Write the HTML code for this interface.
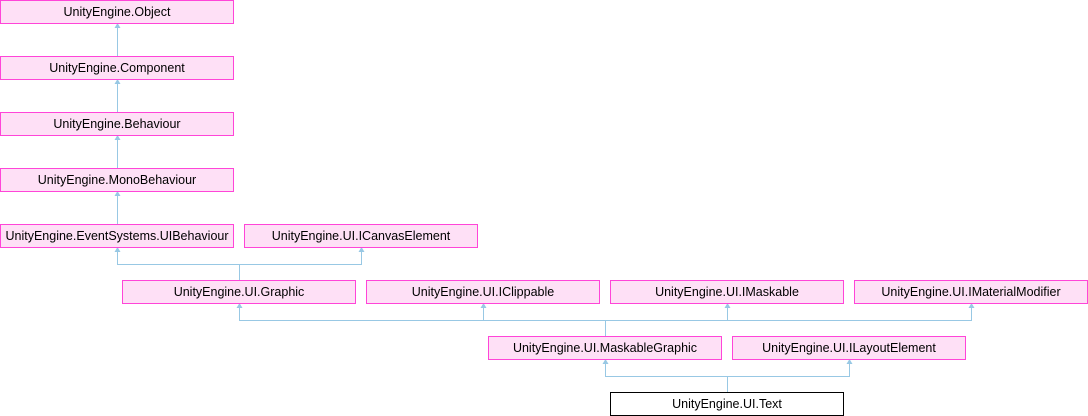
<!DOCTYPE html>
<html><head><meta charset="utf-8"><style>
html,body{margin:0;padding:0;background:#fff;width:1088px;height:416px;overflow:hidden}
text{font-family:"Liberation Sans",sans-serif;font-size:12.5px;fill:#000}
.b{fill:#fee0f6;stroke:#ff45d8;stroke-width:1}
.t{fill:#fff;stroke:#000;stroke-width:1}
.l{stroke:#98c8e4;stroke-width:1;fill:none}
.a{fill:#98c8e4}
</style></head><body>
<svg width="1088" height="416" xmlns="http://www.w3.org/2000/svg">
<g>
<path class="l" d="M117.5 26V56M117.5 82V112M117.5 138V168M117.5 194V224"/>
<path class="l" d="M117.5 250V264.5H361.5V250M239.5 264.5V280"/>
<path class="l" d="M239.5 306V320.5H971.5V306M483.5 306V320.5M727.5 306V320.5M605.5 320.5V336"/>
<path class="l" d="M605.5 362V376.5H849.5V362M727.5 376.5V392"/>
<g class="a">
<path d="M117.5 23l-3 5h6z"/><path d="M117.5 79l-3 5h6z"/><path d="M117.5 135l-3 5h6z"/><path d="M117.5 191l-3 5h6z"/>
<path d="M117.5 247l-3 5h6z"/><path d="M361.5 247l-3 5h6z"/>
<path d="M239.5 303l-3 5h6z"/><path d="M483.5 303l-3 5h6z"/><path d="M727.5 303l-3 5h6z"/><path d="M971.5 303l-3 5h6z"/>
<path d="M605.5 359l-3 5h6z"/><path d="M849.5 359l-3 5h6z"/>
</g>
<rect class="b" x="0.5" y="0.5" width="233" height="23"/><text x="117" y="16" text-anchor="middle">UnityEngine.Object</text>
<rect class="b" x="0.5" y="56.5" width="233" height="23"/><text x="117" y="72" text-anchor="middle">UnityEngine.Component</text>
<rect class="b" x="0.5" y="112.5" width="233" height="23"/><text x="117" y="128" text-anchor="middle">UnityEngine.Behaviour</text>
<rect class="b" x="0.5" y="168.5" width="233" height="23"/><text x="117" y="184" text-anchor="middle">UnityEngine.MonoBehaviour</text>
<rect class="b" x="0.5" y="224.5" width="233" height="23"/><text x="117" y="240" text-anchor="middle">UnityEngine.EventSystems.UIBehaviour</text>
<rect class="b" x="244.5" y="224.5" width="233" height="23"/><text x="361" y="240" text-anchor="middle">UnityEngine.UI.ICanvasElement</text>
<rect class="b" x="122.5" y="280.5" width="233" height="23"/><text x="239" y="296" text-anchor="middle">UnityEngine.UI.Graphic</text>
<rect class="b" x="366.5" y="280.5" width="233" height="23"/><text x="483" y="296" text-anchor="middle">UnityEngine.UI.IClippable</text>
<rect class="b" x="610.5" y="280.5" width="233" height="23"/><text x="727" y="296" text-anchor="middle">UnityEngine.UI.IMaskable</text>
<rect class="b" x="854.5" y="280.5" width="233" height="23"/><text x="971" y="296" text-anchor="middle">UnityEngine.UI.IMaterialModifier</text>
<rect class="b" x="488.5" y="336.5" width="233" height="23"/><text x="605" y="352" text-anchor="middle">UnityEngine.UI.MaskableGraphic</text>
<rect class="b" x="732.5" y="336.5" width="233" height="23"/><text x="849" y="352" text-anchor="middle">UnityEngine.UI.ILayoutElement</text>
<rect class="t" x="610.5" y="392.5" width="233" height="23"/><text x="727" y="408" text-anchor="middle">UnityEngine.UI.Text</text>
</g>
</svg>
</body></html>
